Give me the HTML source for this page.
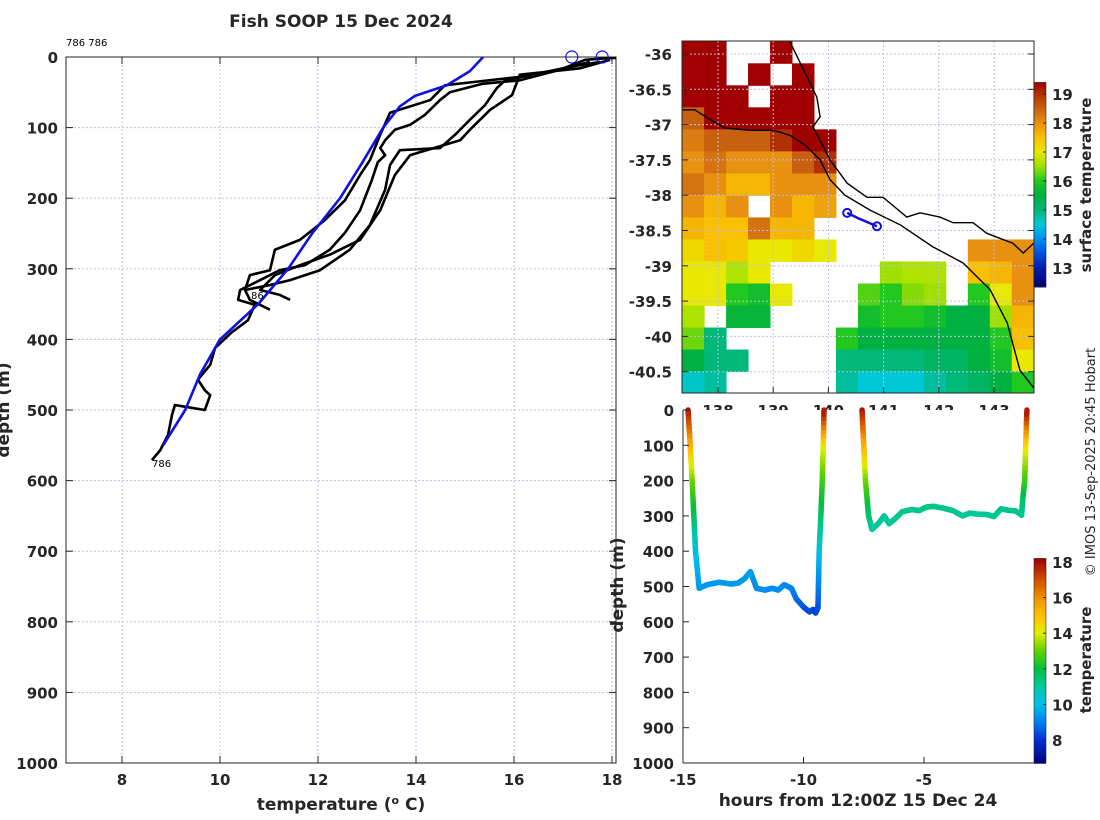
<!DOCTYPE html>
<html><head><meta charset="utf-8">
<style>
html,body{margin:0;padding:0;background:#fff;}
svg{display:block;font-family:"DejaVu Sans","Liberation Sans",sans-serif;}
.tk{font-weight:bold;font-size:15px;fill:#262626;}
.lb{font-weight:bold;font-size:17px;fill:#262626;}
</style></head>
<body>
<svg id="fig" width="1100" height="820" viewBox="0 0 1100 820" xmlns="http://www.w3.org/2000/svg">
<defs>
<clipPath id="clipL"><rect x="66" y="57" width="550" height="706"/></clipPath>
<clipPath id="clipM"><rect x="682" y="41" width="352" height="352"/></clipPath>
<clipPath id="clipMX"><rect x="600" y="395" width="450" height="15"/></clipPath>
<clipPath id="clipB"><rect x="683" y="400" width="351" height="363"/></clipPath>
</defs>
<g id="gL"></g>
<g id="gM"></g>
<g id="gB"></g>
<text transform="translate(1095,462) rotate(-90)" text-anchor="middle" font-size="13" fill="#262626">© IMOS 13-Sep-2025 20:45 Hobart</text>
</svg>
<script>
// ---------- DATA: profile panel ----------
const tempTicks = [8, 10, 12, 14, 16, 18];
const depthTicks = [0, 100, 200, 300, 400, 500, 600, 700, 800, 900, 1000];
const blueTemp = [15.37,15.10,14.63,13.98,13.67,13.33,12.90,12.45,11.88,11.39,10.78,10.0,9.59,9.29,8.84];
const blueDepth = [0,20,40,55,70,100,150,200,250,300,350,400,450,500,550];
const black1Temp = [18.06,17.45,16.94,16.12,15.35,14.69,14.49,14.18,13.88,13.57,13.37,13.27,13.37,13.22,13.10,12.86,12.55,12.24,11.73,11.22,10.82,10.41,10.37,10.71,10.57,10.24,9.90,9.80,9.55,9.69,9.80,9.69,9.08,9.02,8.94,8.78,8.61];
const black1Depth = [1,4,18,33,38,50,61,82,96,103,118,129,139,149,174,217,249,273,295,302,316,330,344,351,373,390,412,436,457,472,479,500,493,507,535,557,571];
const black2Temp = [17.76,17.14,15.82,15.65,15.41,15.10,14.80,14.49,13.67,13.47,13.37,13.06,12.65,12.04,11.43,11.02,10.51,10.61,11.02];
const black2Depth = [7,14,33,44,68,89,110,129,132,153,188,238,273,302,316,323,330,344,358];
const black3Temp = [17.96,17.35,16.12,15.96,15.51,15.10,14.90,13.88,13.57,13.27,12.86,12.24,11.63,11.12,10.82,11.22,11.43];
const black3Depth = [4,16,25,54,75,103,118,139,167,217,259,280,295,309,330,337,344];
const black4Temp = [17.55,16.53,14.59,14.29,13.47,13.27,13.06,12.86,12.55,12.14,11.63,11.12,11.02,10.61,10.51];
const black4Depth = [7,25,40,61,79,110,146,167,203,231,259,273,302,309,330];
const surfaceMarkTemp = [17.18, 17.80];

// ---------- DATA: map panel ----------
const latTicks = [-36,-36.5,-37,-37.5,-38,-38.5,-39,-39.5,-40,-40.5];
const lonTicks = [138,139,140,141,142,143];
const sstTicks = [13,14,15,16,17,18,19];
const N = null;
const sstRows = [
[19.5,19.5,N,N,19.5,N,N,N,N,N,N,N,N,N,N,N],
[19.5,19.5,N,19.5,N,19.5,N,N,N,N,N,N,N,N,N,N],
[19.5,19.5,19.5,N,19.5,19.5,N,N,N,N,N,N,N,N,N,N],
[18.5,19.5,19.5,19.5,19.5,19.5,N,N,N,N,N,N,N,N,N,N],
[18.2,18.5,18.5,18.5,19,19.5,19.5,N,N,N,N,N,N,N,N,N],
[18,18.3,18,18,18,18.5,19,N,N,N,N,N,N,N,N,N],
[18.3,18,17.6,17.6,18,18,18,N,N,N,N,N,N,N,N,N],
[18,17.6,18,N,18,17.6,17.8,N,N,N,N,N,N,N,N,N],
[17.6,17.5,17.5,18.3,17.6,17.6,N,N,N,N,N,N,N,N,N,N],
[17.2,17.5,17.4,17,17,17.2,17,N,N,N,N,N,N,18,18,18],
[17,17,16.6,17,N,N,N,N,N,16.5,16.6,16.6,N,17.5,17.6,18],
[17,17,16,15.8,17,N,N,N,16.2,16,16.4,16.5,N,16,17,18],
[16.6,N,15.6,15.6,N,N,N,N,15.8,16,16,15.8,15.5,15.5,16.5,17.6],
[16.3,15,N,N,N,N,N,16,15.5,15.5,15.5,15.5,15.5,15.5,16,17.5],
[15.5,15,15,N,N,N,N,15,15,15,15,15.2,15.2,15.5,15.8,17],
[14.6,14.8,N,N,N,N,N,14.8,14.5,14.5,14.5,14.8,15,15.2,15.5,16]
];
const coastLon = [139.30,139.79,139.85,139.72,140.03,140.34,140.70,140.99,141.42,141.66,142.02,142.26,142.62,142.87,143.34,143.53,143.72];
const coastLat = [-35.82,-36.61,-36.89,-37.03,-37.50,-37.83,-38.03,-38.03,-38.31,-38.25,-38.31,-38.39,-38.39,-38.54,-38.68,-38.82,-38.68];
const isoLon = [137.35,137.58,137.86,138.13,138.58,139.0,139.30,139.58,139.85,140.03,140.30,140.75,141.30,141.89,142.44,142.93,143.24,143.47,143.72];
const isoLat = [-36.79,-36.79,-36.93,-37.05,-37.08,-37.08,-37.15,-37.29,-37.50,-37.78,-38.00,-38.21,-38.42,-38.73,-38.96,-39.34,-39.81,-40.48,-40.73];
const trackLon = [140.34, 140.55, 140.70, 140.88];
const trackLat = [-38.25, -38.33, -38.38, -38.44];

// ---------- DATA: depth-time panel ----------
const hourTicks = [-15, -10, -5];
const tempBarTicks = [8, 10, 12, 14, 16, 18];
const dive1Hours = [-14.79,-14.7,-14.62,-14.55,-14.48,-14.33,-14.0,-13.5,-13.0,-12.7,-12.45,-12.2,-11.95,-11.6,-11.3,-11.05,-10.8,-10.5,-10.3,-10.0,-9.75,-9.6,-9.5,-9.4,-9.35,-9.28,-9.22,-9.18,-9.15];
const dive1Depth = [0,100,200,300,400,505,495,488,493,490,478,458,505,510,505,510,495,505,535,558,572,565,575,560,400,300,200,100,0];
const dive1Temp = [18,15.5,13.2,11.8,10.2,9.4,9.4,9.4,9.4,9.4,9.4,9.5,9.2,9.2,9.2,9.2,9.2,9.1,8.8,8.5,8.3,8.3,8.2,8.3,10,11.5,12.6,14,18];
const dive2Hours = [-7.57,-7.5,-7.43,-7.3,-7.16,-6.9,-6.65,-6.45,-6.2,-5.9,-5.5,-5.2,-4.9,-4.6,-4.2,-3.8,-3.4,-3.1,-2.8,-2.4,-2.1,-1.8,-1.5,-1.2,-0.95,-0.9,-0.82,-0.78,-0.73];
const dive2Depth = [0,100,200,300,338,322,300,322,308,288,282,285,275,273,278,285,300,292,295,296,302,280,284,286,298,250,200,100,0];
const dive2Temp = [18,15.5,13.2,11.6,11,11,11.1,11,11.1,11.2,11.2,11.2,11.3,11.3,11.2,11.2,11.1,11.1,11.1,11.1,11.1,11.2,11.2,11.2,11.1,11.6,12.5,14.2,18];

// ---------- scales ----------
const X = t => 122 + (t - 8) * 49;
const Y = d => 57 + d * 0.706;
const LX = lon => 718 + (lon - 138) * 55.2;
const LY = lat => 54 + (-36 - lat) * 70.6;
const HX = h => 683 + (h + 15) * 24.1;
const HY = d => 410 + d * 0.353;
const lon0 = 137.35, lon1 = 143.72, lat0 = -35.82, lat1 = -40.81;
const SY = v => 94 + (19 - v) * 29;
const TY = v => 562 + (18 - v) * 17.8;

const NS = "http://www.w3.org/2000/svg";
function mk(tag, parent, attrs) {
  const e = document.createElementNS(NS, tag);
  for (const k in attrs) e.setAttribute(k, attrs[k]);
  parent.appendChild(e);
  return e;
}
function hex(c){return [parseInt(c.slice(1,3),16),parseInt(c.slice(3,5),16),parseInt(c.slice(5,7),16)];}
function cmap(stops, v) {
  if (v <= stops[0][0]) return stops[0][1];
  for (let i = 1; i < stops.length; i++) {
    if (v <= stops[i][0]) {
      const f = (v - stops[i-1][0]) / (stops[i][0] - stops[i-1][0]);
      const a = hex(stops[i-1][1]), b = hex(stops[i][1]);
      return "rgb(" + a.map((x, j) => Math.round(x + (b[j] - x) * f)).join(",") + ")";
    }
  }
  return stops[stops.length-1][1];
}
const sstStops = [[12.35,"#000070"],[13,"#0020b0"],[13.5,"#0050e0"],[14,"#0090f0"],[14.5,"#00c8d8"],[15,"#00b878"],[15.5,"#00b040"],[16,"#20c820"],[16.5,"#a0e000"],[17,"#e8e800"],[17.5,"#f8c000"],[18,"#e89010"],[18.5,"#c86010"],[19,"#b03000"],[19.4,"#a00000"]];
const tStops = [[6.7,"#000080"],[8,"#0030d0"],[9,"#0080f0"],[10,"#00c0e8"],[11,"#00c8a0"],[12,"#00c040"],[13,"#60d000"],[14,"#e0f000"],[15,"#ffc000"],[16,"#f09000"],[17,"#d05000"],[18.2,"#a00000"]];

// ================= LEFT PANEL =================
const gL = document.getElementById("gL");
const lt = mk("text", gL, {x:341, y:27, "text-anchor":"middle", class:"lb"});


lt.textContent = "Fish SOOP 15 Dec 2024";
const idl = mk("text", gL, {x:66, y:46, "font-size":10, fill:"#000"});


idl.textContent = "786 786";
tempTicks.forEach(t => {
  const g = mk("line", gL, {x1:X(t), x2:X(t), y1:57, y2:763, stroke:"#b8c0e8", "stroke-width":1, "stroke-dasharray":"2,2"});
  
  
  mk("line", gL, {x1:X(t), x2:X(t), y1:763, y2:756, stroke:"#262626"});
  mk("line", gL, {x1:X(t), x2:X(t), y1:57, y2:64, stroke:"#262626"});
  const tl = mk("text", gL, {x:X(t), y:785, "text-anchor":"middle", class:"tk"});
  
  
  tl.textContent = t;
});
depthTicks.forEach(d => {
  const g = mk("line", gL, {x1:66, x2:616, y1:Y(d), y2:Y(d), stroke:"#b8c0e8", "stroke-width":1, "stroke-dasharray":"2,2"});
  
  
  mk("line", gL, {x1:66, x2:73, y1:Y(d), y2:Y(d), stroke:"#262626"});
  mk("line", gL, {x1:616, x2:609, y1:Y(d), y2:Y(d), stroke:"#262626"});
  const tl = mk("text", gL, {x:58, y:Y(d)+6, "text-anchor":"end", class:"tk"});
  
  
  tl.textContent = d;
});
const fr = mk("rect", gL, {x:66, y:57, width:550, height:706, fill:"none", stroke:"#262626", "stroke-width":1});


const xl = mk("text", gL, {x:341, y:810, "text-anchor":"middle", class:"lb"});


xl.innerHTML = 'temperature (<tspan dy="-6" font-size="11">o</tspan><tspan dy="6"> C)</tspan>';
const yl = mk("text", gL, {transform:"translate(9,410) rotate(-90)", "text-anchor":"middle", class:"lb"});


yl.textContent = "depth (m)";
const pc = mk("g", gL, {"clip-path":"url(#clipL)"});
function prof(ts, ds, color, name) {
  const p = mk("polyline", pc, {points: ts.map((t, i) => X(t) + "," + Y(ds[i])).join(" "), fill:"none", stroke:color, "stroke-width":2.6, "stroke-linejoin":"round"});
  
  
}
prof(black1Temp, black1Depth, "#000", "profile-line-1");
prof(black2Temp, black2Depth, "#000", "profile-line-2");
prof(black3Temp, black3Depth, "#000", "profile-line-3");
prof(black4Temp, black4Depth, "#000", "profile-line-4");
prof(blueTemp, blueDepth, "#1010e0", "climatology-line");
mk("line", pc, {x1:X(17.9), x2:616, y1:Y(1), y2:Y(1), stroke:"#000", "stroke-width":3});
surfaceMarkTemp.forEach(t => {
  const c = mk("circle", gL, {cx:X(t), cy:Y(0), r:6, fill:"none", stroke:"#1010e0", "stroke-width":1.2});
  
  
});
const l786 = mk("text", gL, {x:152, y:467, "font-size":10});


l786.textContent = "786";
const l86 = mk("text", gL, {x:251, y:299, "font-size":10});


l86.textContent = "86";

// ================= MAP PANEL =================
const gM = document.getElementById("gM");
const mc = mk("g", gM, {"clip-path":"url(#clipM)"});
const nr = sstRows.length, nc = sstRows[0].length;
const dLon = (lon1 - lon0) / nc, dLat = (lat0 - lat1) / nr;
sstRows.forEach((row, r) => row.forEach((v, c) => {
  if (v === null) return;
  const x0 = LX(lon0 + c * dLon), x1 = LX(lon0 + (c + 1) * dLon);
  const y0 = LY(lat0 - r * dLat), y1 = LY(lat0 - (r + 1) * dLat);
  const cell = mk("rect", mc, {x:x0, y:y0, width:x1 - x0 + 0.5, height:y1 - y0 + 0.5, fill:cmap(sstStops, v)});
  
  
}));
lonTicks.forEach(l => {
  mk("line", mc, {x1:LX(l), x2:LX(l), y1:41, y2:393, stroke:"#b8c0e8", "stroke-dasharray":"2,2"});
  mk("line", gM, {x1:LX(l), x2:LX(l), y1:393, y2:387, stroke:"#262626"});
  const t = mk("text", gM, {x:LX(l), y:416, "text-anchor":"middle", class:"tk", "clip-path":"url(#clipMX)"});
  
  
  t.textContent = l;
});
latTicks.forEach(l => {
  mk("line", mc, {x1:682, x2:1034, y1:LY(l), y2:LY(l), stroke:"#b8c0e8", "stroke-dasharray":"2,2"});
  mk("line", gM, {x1:682, x2:688, y1:LY(l), y2:LY(l), stroke:"#262626"});
  mk("line", gM, {x1:1034, x2:1028, y1:LY(l), y2:LY(l), stroke:"#262626"});
  const t = mk("text", gM, {x:672, y:LY(l)+6, "text-anchor":"end", class:"tk"});
  
  
  t.textContent = l;
});
const coast = mk("polyline", mc, {points: coastLon.map((l, i) => LX(l) + "," + LY(coastLat[i])).join(" "), fill:"none", stroke:"#000", "stroke-width":1.4});


const iso = mk("polyline", mc, {points: isoLon.map((l, i) => LX(l) + "," + LY(isoLat[i])).join(" "), fill:"none", stroke:"#000", "stroke-width":1.4});


const trk = mk("polyline", mc, {points: trackLon.map((l, i) => LX(l) + "," + LY(trackLat[i])).join(" "), fill:"none", stroke:"#1010e0", "stroke-width":2.5});


[0, trackLon.length - 1].forEach(i => {
  const c = mk("circle", mc, {cx:LX(trackLon[i]), cy:LY(trackLat[i]), r:4, fill:"none", stroke:"#1010e0", "stroke-width":2});
  
  
});
const mf = mk("rect", gM, {x:682, y:41, width:352, height:352, fill:"none", stroke:"#262626"});


// SST colorbar
for (let v = 12.35; v < 19.4; v += 0.05) {
  mk("rect", gM, {x:1034, y:SY(v + 0.05), width:12, height:29 * 0.05 + 0.6, fill:cmap(sstStops, v)});
}
const sb = mk("rect", gM, {x:1034, y:SY(19.4), width:12, height:SY(12.35) - SY(19.4), fill:"none", stroke:"#262626", "stroke-width":0.6});


sstTicks.forEach(v => {
  mk("line", gM, {x1:1046, x2:1043, y1:SY(v), y2:SY(v), stroke:"#262626"});
  const t = mk("text", gM, {x:1052, y:SY(v)+6, class:"tk"});
  
  
  t.textContent = v;
});
const st = mk("text", gM, {transform:"translate(1091,185) rotate(-90)", "text-anchor":"middle", class:"tk"});


st.textContent = "surface temperature";

// ================= DEPTH-TIME PANEL =================
const gB = document.getElementById("gB");
mk("rect", gB, {x:683, y:410, width:351, height:353, fill:"#fff"});
const bc = mk("g", gB, {"clip-path":"url(#clipB)"});
function dive(hs, ds, ts, name) {
  const g = mk("g", bc, {});
  
  
  for (let i = 0; i < hs.length - 1; i++) {
    const n = 8;
    for (let k = 0; k < n; k++) {
      const f0 = k / n, f1 = (k + 1) / n;
      const h0 = hs[i] + (hs[i+1] - hs[i]) * f0, h1 = hs[i] + (hs[i+1] - hs[i]) * f1;
      const d0 = ds[i] + (ds[i+1] - ds[i]) * f0, d1 = ds[i] + (ds[i+1] - ds[i]) * f1;
      const tv = ts[i] + (ts[i+1] - ts[i]) * (f0 + f1) / 2;
      mk("line", g, {x1:HX(h0), y1:HY(d0), x2:HX(h1), y2:HY(d1), stroke:cmap(tStops, tv), "stroke-width":5.5, "stroke-linecap":"round"});
    }
  }
}
dive(dive1Hours, dive1Depth, dive1Temp, "dive-1-trace");
dive(dive2Hours, dive2Depth, dive2Temp, "dive-2-trace");
mk("line", gB, {x1:683, x2:683, y1:410, y2:763, stroke:"#262626"});
mk("line", gB, {x1:683, x2:1034, y1:763, y2:763, stroke:"#262626"});
depthTicks.forEach(d => {
  mk("line", gB, {x1:683, x2:689, y1:HY(d), y2:HY(d), stroke:"#262626"});
  const t = mk("text", gB, {x:674, y:HY(d)+6, "text-anchor":"end", class:"tk"});
  
  
  t.textContent = d;
});
hourTicks.forEach(h => {
  mk("line", gB, {x1:HX(h), x2:HX(h), y1:763, y2:757, stroke:"#262626"});
  const t = mk("text", gB, {x:HX(h), y:785, "text-anchor":"middle", class:"tk"});
  
  
  t.textContent = h;
});
const hx = mk("text", gB, {x:858, y:806, "text-anchor":"middle", class:"lb"});


hx.textContent = "hours from 12:00Z 15 Dec 24";
const hy = mk("text", gB, {transform:"translate(623,585) rotate(-90)", "text-anchor":"middle", class:"lb"});


hy.textContent = "depth (m)";
for (let v = 6.7; v < 18.2; v += 0.05) {
  mk("rect", gB, {x:1034, y:TY(v + 0.05), width:12, height:17.8 * 0.05 + 0.6, fill:cmap(tStops, v)});
}
const tb = mk("rect", gB, {x:1034, y:TY(18.2), width:12, height:TY(6.7) - TY(18.2), fill:"none", stroke:"#262626", "stroke-width":0.6});


tempBarTicks.forEach(v => {
  mk("line", gB, {x1:1046, x2:1043, y1:TY(v), y2:TY(v), stroke:"#262626"});
  const t = mk("text", gB, {x:1052, y:TY(v)+6, class:"tk"});
  
  
  t.textContent = v;
});
const tt = mk("text", gB, {transform:"translate(1091,660) rotate(-90)", "text-anchor":"middle", class:"tk"});


tt.textContent = "temperature";
</script>
</body></html>
